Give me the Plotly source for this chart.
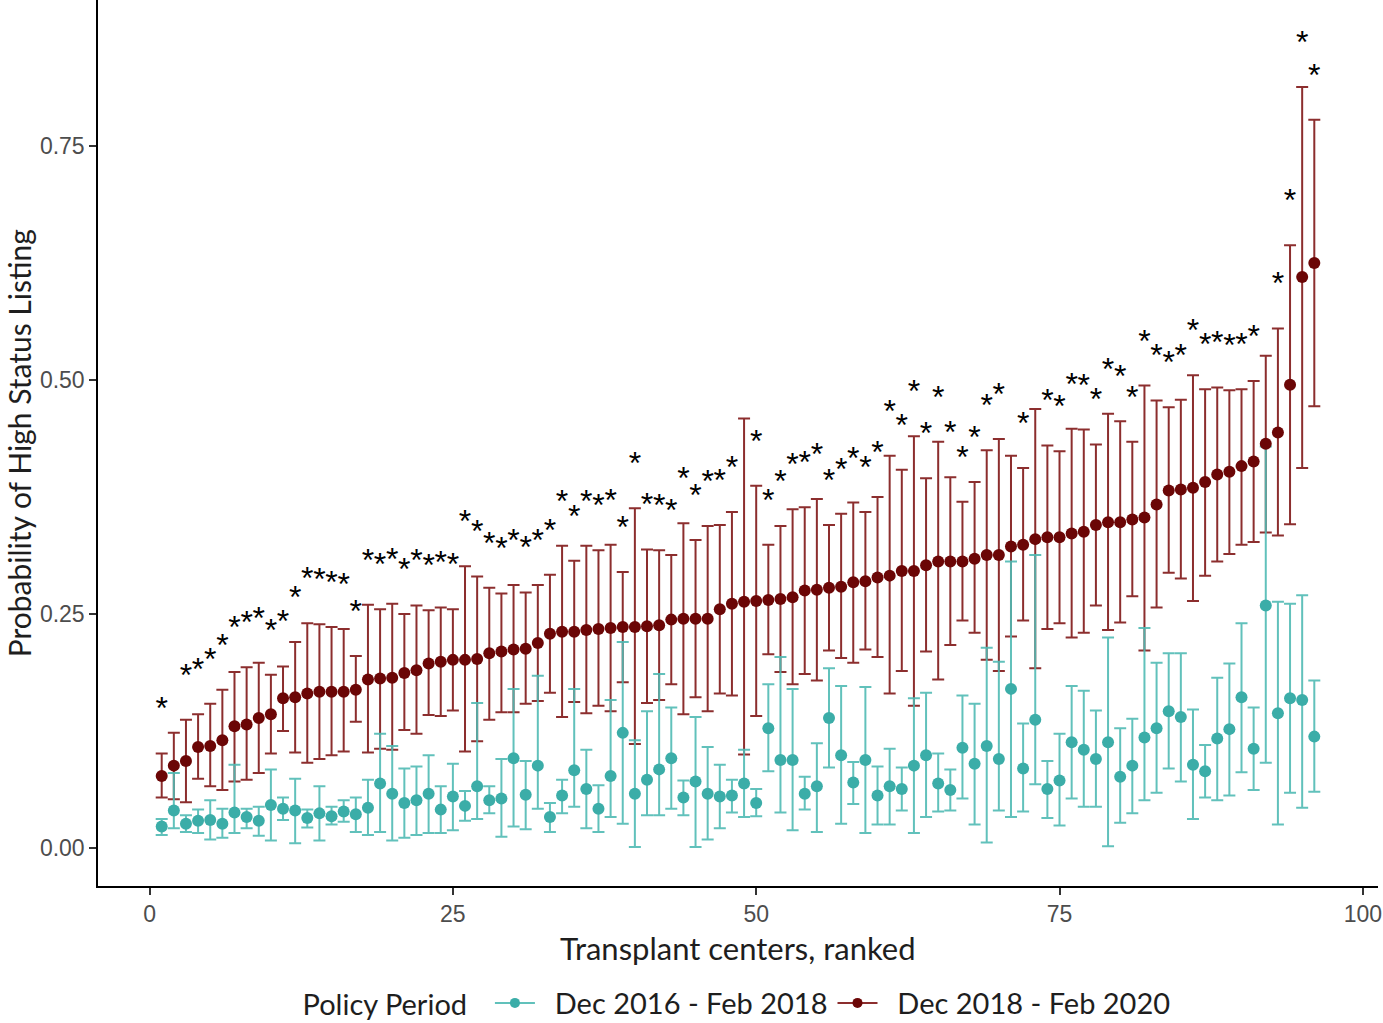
import plotly.graph_objects as go

# ---------------- data ----------------
centers = list(range(1, 97))

# Dec 2018 - Feb 2020 (dark red): estimate, lower CI, upper CI
p2_est = [0.077, 0.088, 0.093, 0.108, 0.109, 0.115, 0.130, 0.132, 0.139, 0.143,
          0.160, 0.161, 0.165, 0.167, 0.167, 0.167, 0.169, 0.180, 0.181, 0.182,
          0.187, 0.190, 0.197, 0.199, 0.201, 0.201, 0.202, 0.208, 0.210, 0.212,
          0.213, 0.219, 0.229, 0.231, 0.231, 0.233, 0.234, 0.235, 0.236, 0.236,
          0.237, 0.238, 0.244, 0.245, 0.245, 0.245, 0.255, 0.261, 0.263, 0.264,
          0.265, 0.266, 0.268, 0.275, 0.276, 0.278, 0.279, 0.284, 0.285, 0.289,
          0.291, 0.296, 0.296, 0.302, 0.306, 0.306, 0.306, 0.309, 0.313, 0.313,
          0.322, 0.324, 0.330, 0.332, 0.332, 0.336, 0.338, 0.345, 0.348, 0.348,
          0.351, 0.353, 0.367, 0.382, 0.383, 0.385, 0.391, 0.399, 0.402, 0.408,
          0.413, 0.432, 0.444, 0.495, 0.610, 0.625]
p2_lo = [0.054, 0.052, 0.049, 0.074, 0.066, 0.062, 0.071, 0.073, 0.080, 0.101,
         0.125, 0.102, 0.091, 0.095, 0.099, 0.103, 0.135, 0.102, 0.106, 0.105,
         0.126, 0.122, 0.142, 0.141, 0.147, 0.103, 0.114, 0.137, 0.145, 0.145,
         0.154, 0.157, 0.166, 0.140, 0.156, 0.144, 0.152, 0.146, 0.177, 0.111,
         0.155, 0.158, 0.175, 0.143, 0.161, 0.146, 0.165, 0.163, 0.100, 0.141,
         0.207, 0.188, 0.175, 0.186, 0.179, 0.211, 0.203, 0.198, 0.212, 0.204,
         0.165, 0.189, 0.152, 0.210, 0.180, 0.217, 0.243, 0.230, 0.201, 0.189,
         0.226, 0.243, 0.192, 0.234, 0.240, 0.225, 0.230, 0.259, 0.233, 0.241,
         0.269, 0.211, 0.257, 0.294, 0.288, 0.264, 0.291, 0.306, 0.314, 0.324,
         0.327, 0.337, 0.334, 0.346, 0.406, 0.472]
p2_hi = [0.101, 0.123, 0.137, 0.143, 0.154, 0.169, 0.188, 0.193, 0.198, 0.185,
         0.194, 0.220, 0.240, 0.239, 0.236, 0.234, 0.205, 0.260, 0.255, 0.261,
         0.250, 0.259, 0.254, 0.257, 0.255, 0.301, 0.290, 0.278, 0.272, 0.281,
         0.273, 0.281, 0.292, 0.323, 0.307, 0.323, 0.318, 0.324, 0.295, 0.363,
         0.319, 0.318, 0.313, 0.347, 0.329, 0.344, 0.345, 0.359, 0.459, 0.387,
         0.324, 0.344, 0.362, 0.364, 0.373, 0.345, 0.357, 0.369, 0.359, 0.375,
         0.419, 0.404, 0.440, 0.395, 0.434, 0.396, 0.370, 0.391, 0.425, 0.437,
         0.419, 0.406, 0.469, 0.430, 0.424, 0.448, 0.447, 0.431, 0.464, 0.456,
         0.434, 0.494, 0.478, 0.471, 0.479, 0.505, 0.490, 0.492, 0.489, 0.490,
         0.499, 0.526, 0.555, 0.644, 0.813, 0.778]

# Dec 2016 - Feb 2018 (teal): estimate, lower CI, upper CI
p1_est = [0.023, 0.040, 0.026, 0.029, 0.030, 0.026, 0.038, 0.033, 0.029, 0.046,
          0.042, 0.040, 0.032, 0.037, 0.034, 0.039, 0.036, 0.043, 0.069, 0.058,
          0.048, 0.051, 0.058, 0.041, 0.055, 0.045, 0.066, 0.051, 0.053, 0.096,
          0.057, 0.088, 0.033, 0.056, 0.083, 0.063, 0.042, 0.077, 0.123, 0.058,
          0.073, 0.084, 0.096, 0.054, 0.071, 0.058, 0.055, 0.056, 0.069, 0.048,
          0.128, 0.094, 0.094, 0.058, 0.066, 0.139, 0.099, 0.070, 0.094, 0.056,
          0.066, 0.063, 0.088, 0.099, 0.069, 0.062, 0.107, 0.090, 0.109, 0.095,
          0.170, 0.085, 0.137, 0.063, 0.072, 0.113, 0.105, 0.095, 0.113, 0.076,
          0.088, 0.118, 0.128, 0.146, 0.140, 0.089, 0.082, 0.117, 0.127, 0.161,
          0.106, 0.259, 0.144, 0.160, 0.158, 0.119]
p1_lo = [0.014, 0.021, 0.017, 0.016, 0.009, 0.011, 0.016, 0.021, 0.013, 0.008,
         0.030, 0.005, 0.022, 0.008, 0.025, 0.028, 0.017, 0.014, 0.017, 0.008,
         0.011, 0.014, 0.016, 0.016, 0.019, 0.029, 0.031, 0.037, 0.012, 0.023,
         0.020, 0.042, 0.017, 0.037, 0.044, 0.021, 0.017, 0.033, 0.026, 0.001,
         0.035, 0.035, 0.042, 0.035, 0.001, 0.009, 0.021, 0.038, 0.033, 0.034,
         0.082, 0.038, 0.019, 0.041, 0.017, 0.086, 0.026, 0.047, 0.016, 0.025,
         0.025, 0.040, 0.016, 0.033, 0.039, 0.040, 0.053, 0.025, 0.006, 0.040,
         0.033, 0.039, 0.068, 0.032, 0.024, 0.053, 0.044, 0.044, 0.002, 0.027,
         0.037, 0.051, 0.059, 0.085, 0.071, 0.031, 0.054, 0.051, 0.056, 0.081,
         0.062, 0.091, 0.025, 0.059, 0.043, 0.060]
p1_hi = [0.031, 0.080, 0.035, 0.041, 0.051, 0.042, 0.089, 0.042, 0.044, 0.084,
         0.054, 0.074, 0.041, 0.066, 0.044, 0.051, 0.054, 0.073, 0.122, 0.109,
         0.085, 0.087, 0.099, 0.066, 0.090, 0.061, 0.155, 0.066, 0.095, 0.170,
         0.093, 0.184, 0.048, 0.073, 0.170, 0.105, 0.067, 0.158, 0.220, 0.115,
         0.146, 0.186, 0.150, 0.072, 0.140, 0.108, 0.089, 0.073, 0.105, 0.063,
         0.175, 0.204, 0.170, 0.076, 0.112, 0.192, 0.173, 0.092, 0.172, 0.087,
         0.106, 0.086, 0.160, 0.166, 0.101, 0.084, 0.163, 0.154, 0.214, 0.199,
         0.306, 0.133, 0.313, 0.093, 0.122, 0.173, 0.168, 0.147, 0.225, 0.128,
         0.138, 0.235, 0.198, 0.208, 0.208, 0.148, 0.110, 0.182, 0.197, 0.240,
         0.150, 0.429, 0.263, 0.261, 0.270, 0.179]

# 1 = significant difference (asterisk shown)
signif = [1, 0, 1, 1, 1, 1, 1, 1, 1, 1, 1, 1, 1, 1, 1, 1, 1, 1, 1, 1,
          1, 1, 1, 1, 1, 1, 1, 1, 1, 1, 1, 1, 1, 1, 1, 1, 1, 1, 1, 1,
          1, 1, 1, 1, 1, 1, 1, 1, 0, 1, 1, 1, 1, 1, 1, 1, 1, 1, 1, 1,
          1, 1, 1, 1, 1, 1, 1, 1, 1, 1, 0, 1, 0, 1, 1, 1, 1, 1, 1, 1,
          1, 1, 1, 1, 1, 1, 1, 1, 1, 1, 1, 0, 1, 1, 1, 1]

x_ticks = [0, 25, 50, 75, 100]
y_ticks = [0.0, 0.25, 0.50, 0.75]
y_tick_labels = ["0.00", "0.25", "0.50", "0.75"]
series_names = ["Dec 2016 - Feb 2018", "Dec 2018 - Feb 2020"]
legend_title = "Policy Period"
x_title = "Transplant centers, ranked"
y_title = "Probability of High Status Listing"

# ---------------- style ----------------
RED_PT = "#6B0606"
RED_BAR = "#8C2E2E"
TEAL_PT = "#3BADA8"
TEAL_BAR = "rgba(80,186,180,0.9)"
TITLE_FONT = "Lato"
TICK_FONT = "Liberation Sans"
TEXT_COL = "#1E1E1E"
AST_OFFSET = 0.045

fig = go.Figure()

# error bars (red first, teal on top)
fig.add_trace(go.Scatter(
    x=centers, y=p2_est, mode="markers",
    marker=dict(size=2, color="rgba(0,0,0,0)"),
    error_y=dict(type="data", symmetric=False,
                 array=[h - e for h, e in zip(p2_hi, p2_est)],
                 arrayminus=[e - l for e, l in zip(p2_est, p2_lo)],
                 color=RED_BAR, thickness=2, width=6),
    showlegend=False, hoverinfo="skip"))
fig.add_trace(go.Scatter(
    x=centers, y=p1_est, mode="markers",
    marker=dict(size=2, color="rgba(0,0,0,0)"),
    error_y=dict(type="data", symmetric=False,
                 array=[h - e for h, e in zip(p1_hi, p1_est)],
                 arrayminus=[e - l for e, l in zip(p1_est, p1_lo)],
                 color=TEAL_BAR, thickness=2, width=6),
    showlegend=False, hoverinfo="skip"))

# points
fig.add_trace(go.Scatter(x=centers, y=p1_est, mode="markers",
                         marker=dict(size=12, color=TEAL_PT),
                         showlegend=False))
fig.add_trace(go.Scatter(x=centers, y=p2_est, mode="markers",
                         marker=dict(size=12, color=RED_PT),
                         showlegend=False))

# asterisks above the upper CI of the significant centers
ast_x = [c for c, s in zip(centers, signif) if s]
ast_y = [h + AST_OFFSET for h, s in zip(p2_hi, signif) if s]
fig.add_trace(go.Scatter(x=ast_x, y=ast_y, mode="text", text=["*"] * len(ast_x),
                         textposition="middle center",
                         textfont=dict(family=TICK_FONT, size=32, color="black"),
                         showlegend=False, hoverinfo="skip"))

# legend entries
fig.add_trace(go.Scatter(x=[None], y=[None], mode="lines+markers",
                         name="  " + series_names[0],
                         line=dict(color=TEAL_BAR, width=2),
                         marker=dict(size=10, color=TEAL_PT)))
fig.add_trace(go.Scatter(x=[None], y=[None], mode="lines+markers",
                         name="  " + series_names[1],
                         line=dict(color=RED_BAR, width=2),
                         marker=dict(size=10, color=RED_PT)))

fig.update_layout(
    width=1383, height=1023,
    margin=dict(l=98, r=5, t=0, b=137, autoexpand=False),
    paper_bgcolor="white", plot_bgcolor="white",
    showlegend=True,
    legend=dict(orientation="h", x=0.5, xanchor="center",
                yref="container", y=0.0195, yanchor="middle",
                title=dict(text=legend_title + "  ", font=dict(family=TITLE_FONT, size=29, color=TEXT_COL)),
                font=dict(family=TITLE_FONT, size=29, color=TEXT_COL),
                itemwidth=40, bgcolor="rgba(0,0,0,0)"),
    xaxis=dict(range=[-4.25, 101.25], tickmode="array", tickvals=x_ticks,
               ticktext=[str(t) for t in x_ticks], automargin=False,
               showline=True, linecolor="black", linewidth=1.5,
               ticks="outside", ticklen=7, tickwidth=1.5, tickcolor="#333",
               tickfont=dict(family=TICK_FONT, size=23, color="#4D4D4D"),
               showgrid=False, zeroline=False),
    yaxis=dict(range=[-0.0406, 0.906], tickmode="array", tickvals=y_ticks,
               ticktext=y_tick_labels, automargin=False,
               showline=True, linecolor="black", linewidth=1.5,
               ticks="outside", ticklen=7, tickwidth=1.5, tickcolor="#333",
               tickfont=dict(family=TICK_FONT, size=23, color="#4D4D4D"),
               showgrid=False, zeroline=False),
    annotations=[
        dict(text=x_title, xref="paper", yref="paper", x=0.5, y=-0.07,
             xanchor="center", yanchor="middle", showarrow=False,
             font=dict(family=TITLE_FONT, size=31, color=TEXT_COL)),
        dict(text=y_title, xref="paper", yref="paper", x=-0.0615, y=0.5,
             xanchor="center", yanchor="middle", textangle=-90, showarrow=False,
             font=dict(family=TITLE_FONT, size=30, color=TEXT_COL)),
    ],
)

fig.write_html("out.html", config={"displayModeBar": False},
               post_script="document.body.style.margin='0';"
                           "document.body.style.overflow='hidden';")
